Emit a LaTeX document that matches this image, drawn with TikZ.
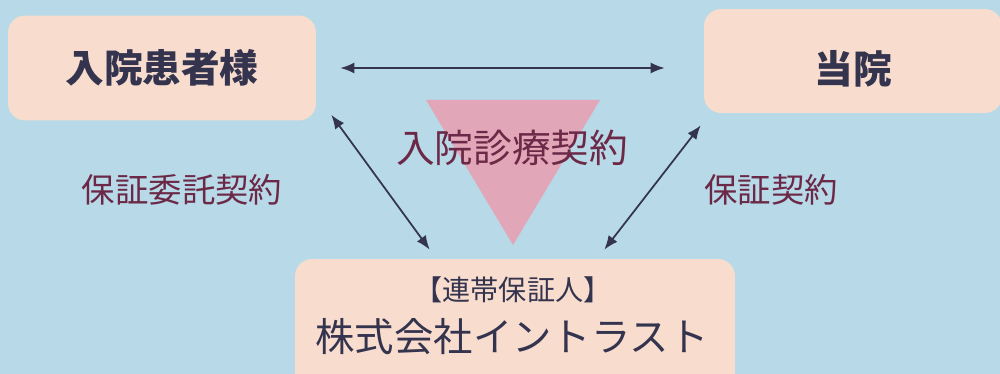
\documentclass[tikz,border=0pt]{standalone}
\usepackage{fontspec}
\usepackage{tikz}
\usetikzlibrary{arrows.meta}
\newfontfamily\jp{Noto Sans CJK JP}
\definecolor{sky}{HTML}{B7D9E8}
\definecolor{peach}{HTML}{F8DCCE}
\definecolor{rose}{HTML}{E1A7B8}
\definecolor{navy}{HTML}{34344F}
\definecolor{wine}{HTML}{6C2947}
\tikzstyle{bag} = [fill=peach, rounded corners=0.34cm, inner sep=0pt]
\tikzstyle{party} = [font=\jp\bfseries\fontsize{22}{26}\selectfont, text=navy]
\tikzstyle{deal} = [font=\jp\fontsize{19}{23}\selectfont, text=wine]
\tikzstyle{link} = [navy, line width=1pt, {Latex[length=0.28cm,width=0.22cm]}-{Latex[length=0.28cm,width=0.22cm]}]

\begin{document}
\begin{tikzpicture}[x=0.02cm, y=-0.02cm]
  \clip (0,0) rectangle (1000,374);
  \fill[sky] (0,0) rectangle (1000,374);
  % parties
  \node [bag, party, minimum width=6.16cm, minimum height=2.1cm] (patient) at (162,68) {入院患者様};
  \node [bag, minimum width=5.96cm, minimum height=2.08cm] (hospbox) at (853,61) {};
  \node [party] (hosp) at (853,69) {当院};
  \node [bag, minimum width=8.8cm, minimum height=2.6cm] (guar) at (515,324) {};
  \node [font=\jp\fontsize{16}{19}\selectfont, text=navy] (role) at (513,290) {【連帯保証人】};
  \node [font=\jp\fontsize{22.4}{26}\selectfont, text=navy] (company) at (512,337) {株式会社イントラスト};
  % contract in the middle
  \fill[rose] (426,100) -- (600,100) -- (513,245) -- cycle;
  \node [deal, font=\jp\fontsize{22}{26}\selectfont] (care) at (512,148) {入院診療契約};
  \node [deal] (entrust) at (182,190) {保証委託契約};
  \node [deal] (surety) at (771,190) {保証契約};
  % arrows
  \draw [link, shorten <=0.48cm, shorten >=0.78cm] (patient.east) -- (patient.east -| hospbox.west);
  \draw [link] ([shift={(15,-6)}]patient.south east) -- ([shift={(135,-9)}]guar.north west);
  \draw [link] ([shift={(-3,12)}]hospbox.south west) -- ([shift={(-131,-9)}]guar.north east);
\end{tikzpicture}
\end{document}
